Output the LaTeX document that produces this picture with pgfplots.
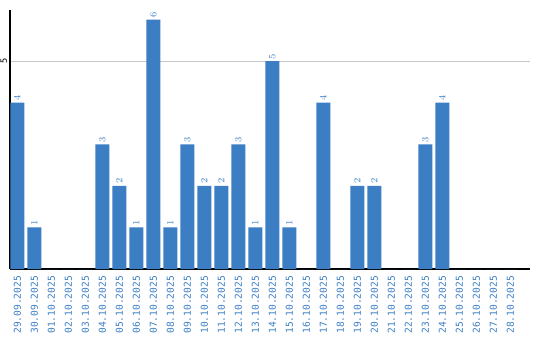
\documentclass[border=0pt]{standalone}
\usepackage{pgfplots}
\pgfplotsset{compat=1.18}
\usepackage{fontspec}
\newfontfamily\lblfont{DejaVu Sans Mono}
\definecolor{barblue}{RGB}{59,126,196}
\definecolor{gridgray}{RGB}{200,200,200}
\begin{document}
\begin{tikzpicture}
\begin{axis}[
  scale only axis,
  width=390pt, height=194.25pt,
  at={(7.5pt,53.25pt)}, anchor=south west,
  xmin=-0.44, xmax=30.15,
  ymin=0, ymax=6.23,
  axis x line*=bottom, axis y line*=left,
  axis line style={black, line width=0.8pt, -},
  xtick=data,
  xticklabels={29.09.2025,30.09.2025,01.10.2025,02.10.2025,03.10.2025,04.10.2025,05.10.2025,06.10.2025,07.10.2025,08.10.2025,09.10.2025,10.10.2025,11.10.2025,12.10.2025,13.10.2025,14.10.2025,15.10.2025,16.10.2025,17.10.2025,18.10.2025,19.10.2025,20.10.2025,21.10.2025,22.10.2025,23.10.2025,24.10.2025,25.10.2025,26.10.2025,27.10.2025,28.10.2025},
  x tick label style={rotate=90, anchor=east, font=\lblfont\fontsize{7.2}{8}\selectfont, text=barblue, inner sep=0pt, xshift=0pt},
  xticklabel shift=5pt,
  ytick={5}, yticklabels={5},
  y tick label style={rotate=90, anchor=south, font=\lblfont\fontsize{6.5}{7}\selectfont, text=black, inner sep=0pt},
  yticklabel shift=2pt,
  major tick length=0pt,
  ymajorgrids,
  grid style={gridgray, line width=0.75pt},
  axis on top=false,
  clip=false,
]
\addplot[ybar, bar width=10.5pt, fill=barblue, draw=none,
  visualization depends on={rawy\as\rawy},
  nodes near coords={\ifdim\rawy pt>0.5pt \pgfmathprintnumber{\rawy}\fi},
  every node near coord/.style={rotate=90, anchor=west, font=\lblfont\fontsize{7.2}{8}\selectfont, text=barblue, inner sep=1.2pt},
] table[x=x, y=y] {
x y
0 4
1 1
2 0
3 0
4 0
5 3
6 2
7 1
8 6
9 1
10 3
11 2
12 2
13 3
14 1
15 5
16 1
17 0
18 4
19 0
20 2
21 2
22 0
23 0
24 3
25 4
26 0
27 0
28 0
29 0
};
\end{axis}
\pgfresetboundingbox
\path[use as bounding box] (0,0) rectangle (405pt,255pt);
\end{tikzpicture}
\end{document}
